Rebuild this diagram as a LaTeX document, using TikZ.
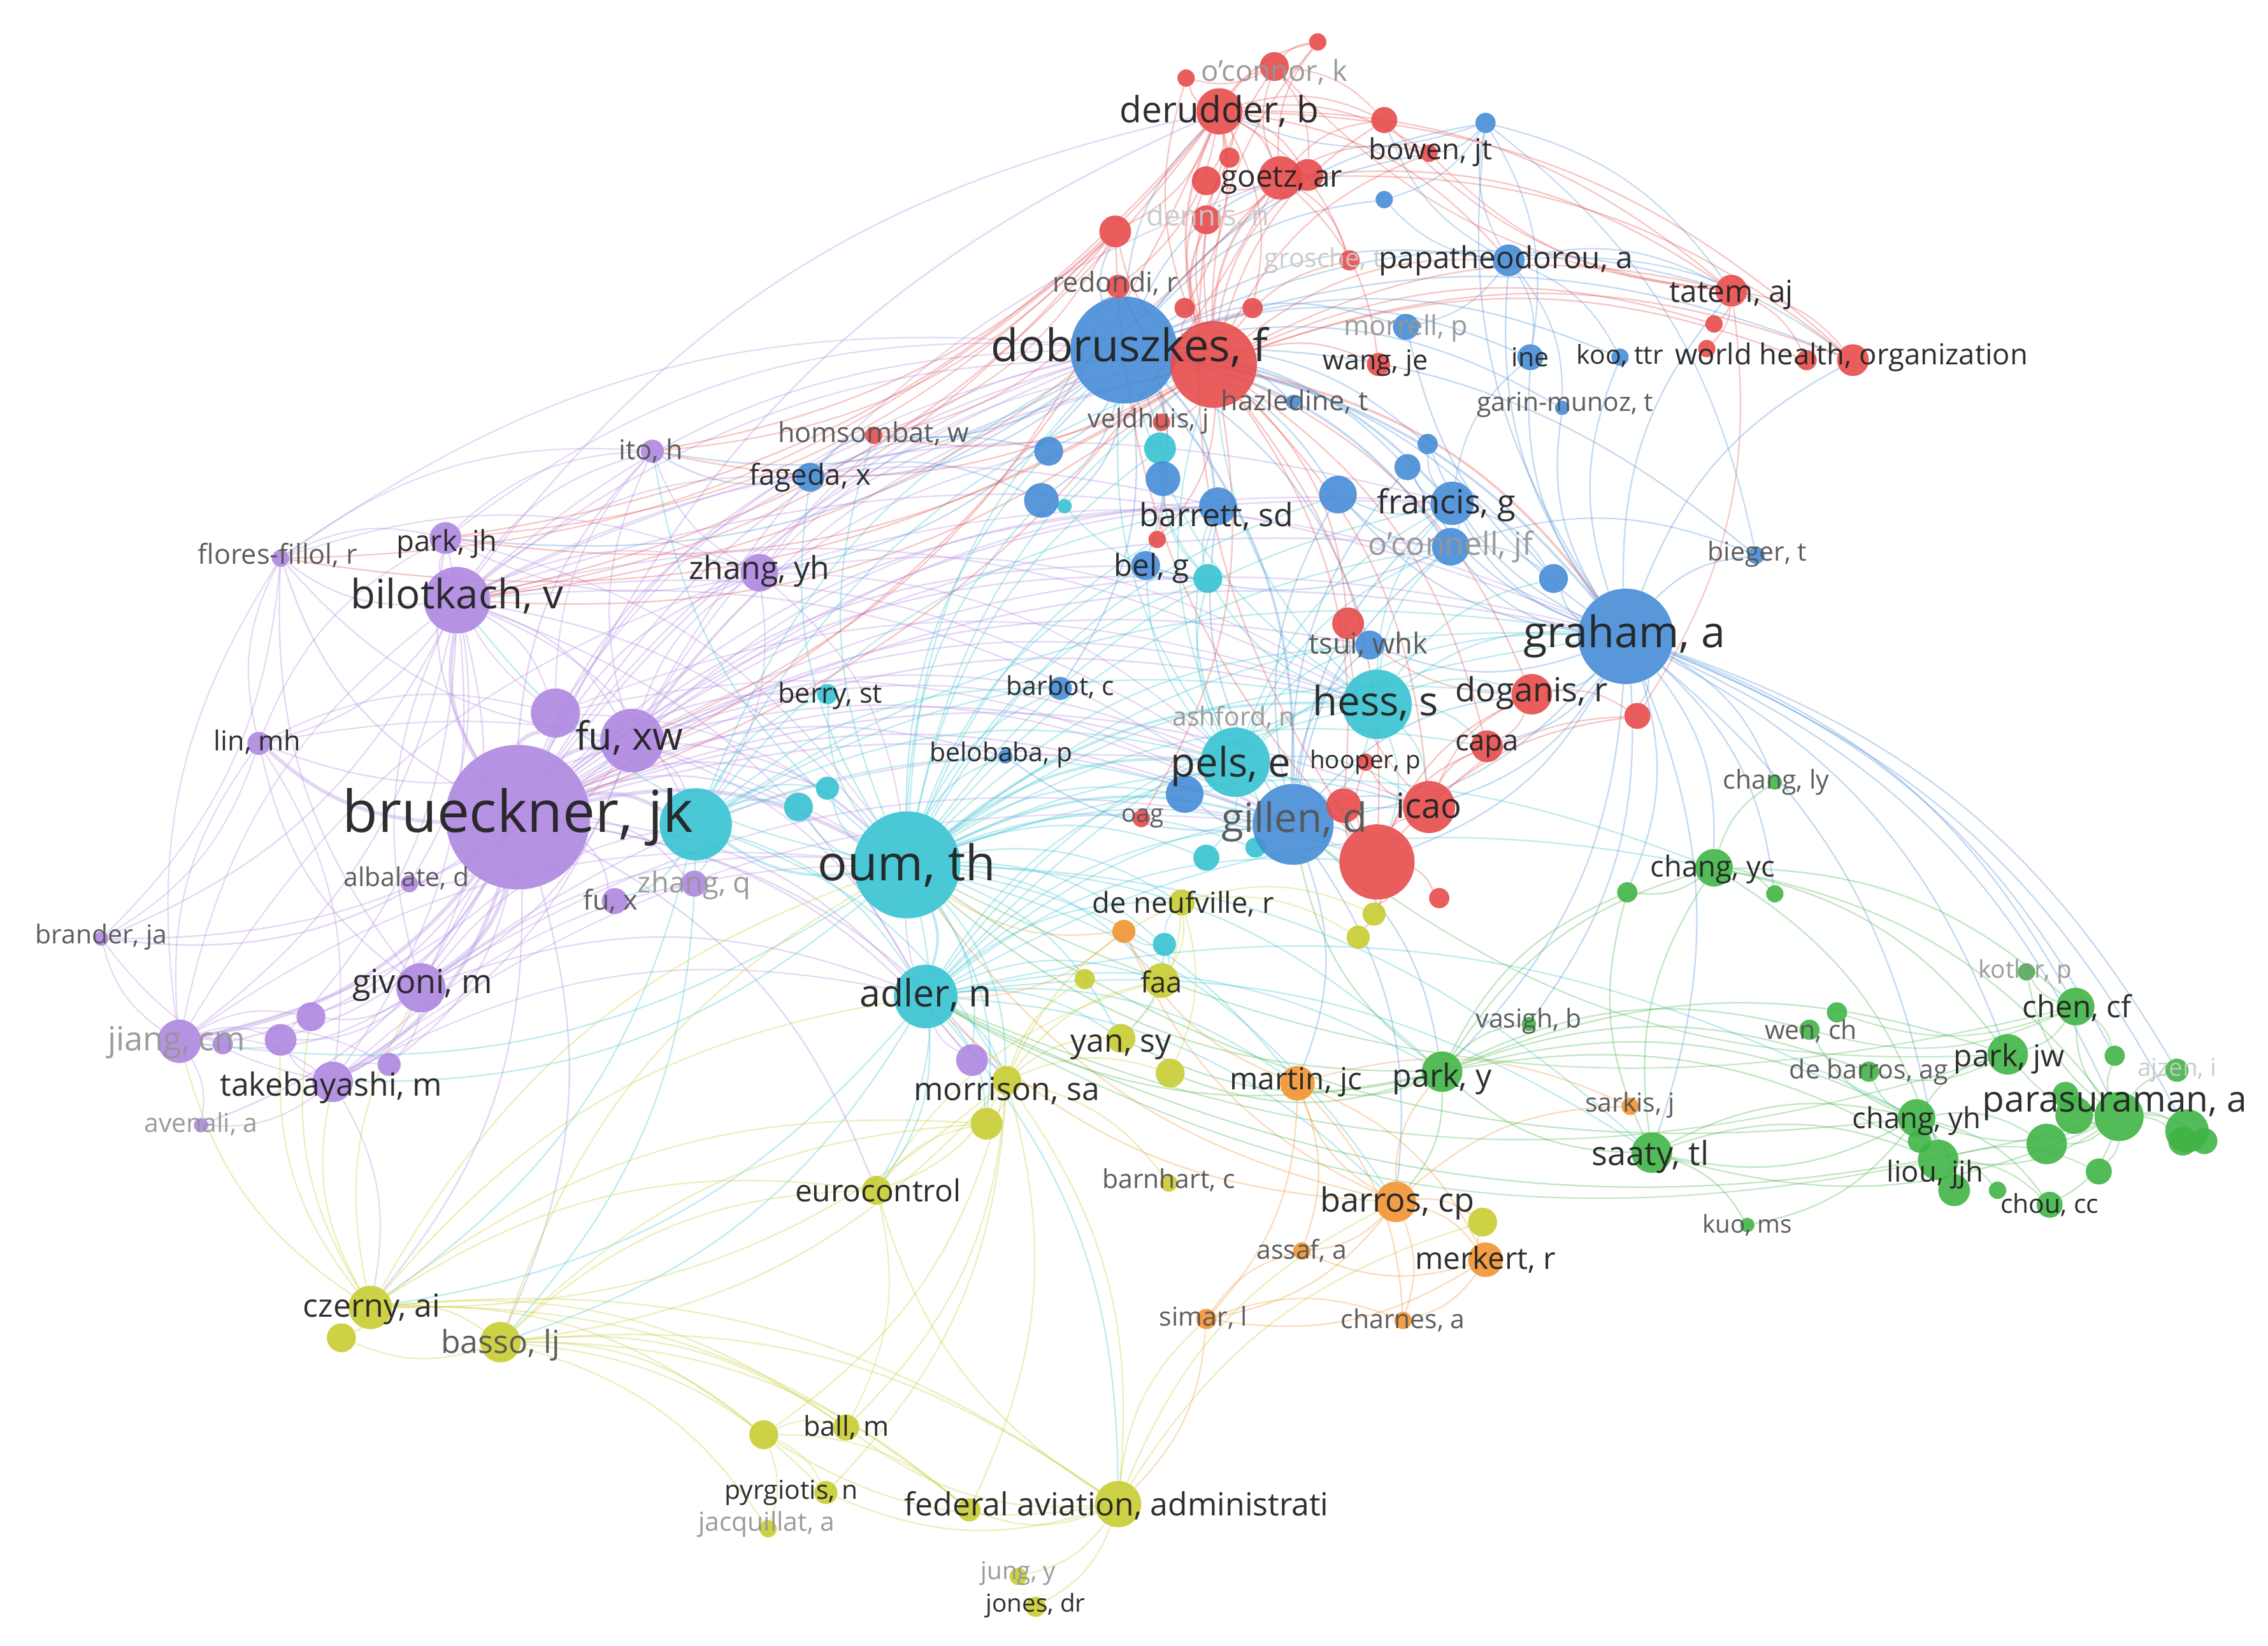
\documentclass[tikz,border=0pt]{standalone}
\usepackage{fontspec}
\setmainfont{Open Sans}
\definecolor{cR}{RGB}{231,76,76}
\definecolor{cB}{RGB}{70,140,215}
\definecolor{cC}{RGB}{55,195,210}
\definecolor{cP}{RGB}{175,135,225}
\definecolor{cY}{RGB}{200,205,50}
\definecolor{cO}{RGB}{242,148,50}
\definecolor{cG}{RGB}{65,180,70}
\definecolor{tD}{RGB}{35,35,35}
\definecolor{tM}{RGB}{85,85,85}
\definecolor{tL}{RGB}{150,150,150}
\definecolor{tF}{RGB}{200,200,200}
\pgfdeclarelayer{bg}
\pgfsetlayers{bg,main}
\tikzset{
  bub/.style={circle,inner sep=0pt,fill opacity=0.9,draw=none},
  lab/.style={inner sep=0pt,text opacity=0.95}
}
\newcommand\edgefan[4]{\foreach \t in {#4} {\draw[#1,line width=#2,opacity=0.33] (#3) to[bend left=20] (\t);}}
\newcommand\albl[5]{\node[lab,text=#5,font=\fontsize{#4}{#4}\selectfont] (#1) at (#2) {#3};}
\begin{document}
\begin{tikzpicture}[x=1pt,y=-1pt]
\path[use as bounding box] (0,0) rectangle (1568,1138);
% ---------- nodes ----------
\foreach \n/\x/\y/\r in {pbrue/358/565/50,pbilo/316/415/23,pparkjh/308/372/11,pflor/194/386/6,pito/451/312/8,pzyh/525/396/13,p7/384/493/17,pfuxw/437/512/22,plin/179/514/8,palb/283/611/6,pbran/70/649/5,pgiv/291/683/17,p13/215/703/10,pjiang/124/720/15,p15/154/722/7,p16/194/719/11,p17/269/736/8,ptake/230/748/14,paven/139/778/5,pfux/425/623/9,pzq/480/611/9,p22/672/733/11}
  \node[bub,fill=cP,minimum size={2*\r pt}] (\n) at (\x,\y) {};
\foreach \n/\x/\y/\r in {c1/802/310/11,c2/736/350/5,c3/835/400/10,chess/952/487/24,cpels/854/527/24,cjk/481/570/25,c7/572/545/8,c8/552/558/10,coum/627/598/37,cberry/572/480/7,c11/834/593/9,c12/868/586/7,c13/805/653/8,cadler/640/689/22}
  \node[bub,fill=cC,minimum size={2*\r pt}] (\n) at (\x,\y) {};
\foreach \n/\x/\y/\r in {bdob/777/242/37,b2/1027/85/7,b3/957/138/6,bpapa/1043/180/11,bmorr/972/226/9,bine/1058/247/9,bkoo/1120/247/6,bhaz/894/278/5,bgarin/1080/282/5,b10/987/307/7,b11/973/323/9,b12/925/342/13,bfran/1004/348/15,bocon/1003/378/13,b15/1074/400/10,bbieg/1214/384/6,bgrah/1124/440/33,btsui/947/446/10,bbel/792/391/10,b20/804/331/12,bbarr/842/350/13,b22/725/312/10,b23/720/346/12,bfag/560/330/10,bbarb/733/476/8,bbelo/695/523/5,b27/819/549/13,bgil/894/570/28}
  \node[bub,fill=cB,minimum size={2*\r pt}] (\n) at (\x,\y) {};
\foreach \n/\x/\y/\r in {r1/881/46/10,r2/820/54/6,r3/911/29/6,rderud/843/77/16,r5/957/83/9,rbowen/988/106/6,rgoetz/885/123/15,r8/904/121/11,r9/834/125/10,r10/850/109/7,rdennis/834/152/10,r12/819/213/7,r13/866/213/7,rdob/839/252/30,rgros/933/180/7,rwang/953/252/8,r17/771/160/11,rredon/773/198/8,rhoms/604/301/6,rveld/803/292/6,rtatem/1197/201/11,r22/1185/224/6,r23/1180/241/6,r24/1249/249/7,rwho/1281/249/11,r26/932/431/11,rdog/1059/480/14,r28/1132/495/9,rcapa/1028/516/11,rhoop/944/527/6,r31/929/557/12,ricao/988/558/18,rbig/952/596/26,r34/995/621/7,roag/789/566/6,r36/800/373/6}
  \node[bub,fill=cR,minimum size={2*\r pt}] (\n) at (\x,\y) {};
\foreach \n/\x/\y/\r in {ydn/817/624/9,y2/950/632/8,y3/939/648/8,ysur/750/677/7,yfaa/803/678/12,yyan/775/718/10,y7/809/742/10,ymorr/696/747/10,y9/682/777/11,yeuro/606/823/10,ybarn/808/818/6,y12/1025/845/10,yczer/256/904/15,ydan/236/925/10,ybasso/346/928/14,y16/528/992/10,yball/585/987/9,ypyr/571/1032/8,yfed/670/1044/8,y20/773/1040/16,yjacq/531/1057/6,yjung/704/1090/6,yjones/716/1111/7}
  \node[bub,fill=cY,minimum size={2*\r pt}] (\n) at (\x,\y) {};
\foreach \n/\x/\y/\r in {o1/777/644/8,omart/897/749/12,osark/1127/765/6,obarros/965/831/14,oassaf/900/865/6,omerk/1027/871/12,osimar/834/912/7,ochar/970/913/6}
  \node[bub,fill=cO,minimum size={2*\r pt}] (\n) at (\x,\y) {};
\foreach \n/\x/\y/\r in {g1/1125/617/7,gcly/1227/541/5,gcyc/1185/600/13,g4/1227/618/6,gvas/1057/708/5,gpy/997/741/14,gkot/1401/672/6,gchen/1435/696/13,gwen/1251/712/7,g10/1270/700/7,gdeb/1292/741/7,gpjw/1388/729/14,g13/1462/730/7,gajz/1505/740/8,g15/1428/757/9,gcyh/1325/773/13,g17/1327/789/8,gliou/1340/802/14,g19/1351/823/11,g20/1381/823/6,gchou/1417/833/9,g22/1415/791/14,g23/1451/810/9,gpara/1465/772/17,g25/1434/771/13,g26/1512/782/15,g27/1524/789/9,g28/1509/789/10,gsaaty/1142/797/14,gkuo/1208/847/5}
  \node[bub,fill=cG,minimum size={2*\r pt}] (\n) at (\x,\y) {};
% ---------- edges ----------
\begin{pgfonlayer}{bg}
\fill[white] (0,0) rectangle (1568,1138);
% purple
\edgefan{cP}{2.6pt}{pbrue}{pbilo,p7,pfuxw,pgiv,cjk,coum,pjiang,ptake,plin}
\edgefan{cP}{1.1pt}{pbrue}{pparkjh,pflor,pito,pzyh,palb,pbran,p13,p15,p16,p17,paven,pfux,pzq,cadler,bdob,rdob,bgil,cpels,chess,bgrah,yczer,ybasso,bfag,rhoms,cberry,c8,p22,ymorr,bbarr,bbel,c3,bfran,rderud,ricao,rbig,yeuro,bbarb,bbelo,btsui,bocon,c7}
\edgefan{cP}{1pt}{pbilo}{pparkjh,pflor,plin,pfuxw,p7,pzyh,pito,pgiv,pjiang,ptake,cjk,coum,bdob,pbran,palb,rdob,cpels,bgil,bfag,chess,bgrah,rderud,bbarr,p16,cadler,bfran}
\edgefan{cP}{1pt}{pfuxw}{pzyh,pito,p7,pgiv,ptake,coum,cjk,pbran,pjiang,bdob,chess,cpels,bgil,rdob,bgrah,pflor,plin,bfran,rgoetz,cadler,bbarr,b22}
\edgefan{cP}{1pt}{pgiv}{ptake,pjiang,p13,p16,p17,plin,pflor,coum,cjk,cadler,bdob,bgil,cpels,pbilo}
\edgefan{cP}{0.9pt}{pjiang}{ptake,p13,p15,p16,plin,pflor,pbran,paven,p17,coum,pzyh,pbilo}
\edgefan{cP}{0.9pt}{plin}{pflor,pparkjh,pbran,p7,ptake,coum}
\edgefan{cP}{0.9pt}{pflor}{pparkjh,pbran,pito,pzyh,bdob}
\edgefan{cP}{0.9pt}{ptake}{paven,p17,p16,coum,cadler,yczer,pbran,bgil}
\edgefan{cP}{0.9pt}{pzyh}{pito,coum,cjk,bdob,rdob,cpels,pparkjh,bgrah,chess}
\edgefan{cP}{0.9pt}{p7}{pito,pparkjh,coum,bdob,chess,bgil}
\edgefan{cP}{0.9pt}{p22}{coum,cadler,ymorr}
\edgefan{cP}{0.9pt}{pparkjh}{pito,bdob,coum}
% cyan
\edgefan{cC}{1.8pt}{coum}{cjk,cadler,cpels,chess,bgil}
\edgefan{cC}{1pt}{coum}{bdob,rdob,bgrah,c7,c8,cberry,bbarb,bbelo,c11,c12,c13,bfran,bbarr,bbel,c3,ricao,rbig,ydn,yfaa,yyan,ymorr,y9,yeuro,omart,gpy,p22,ptake,pjiang,pbilo,bocon,btsui,rdog,gcyc,gsaaty,obarros,bfag,b22,b23,c1,pito,rhoms,b27,b12,rcapa}
\edgefan{cC}{1pt}{cjk}{c8,c7,cadler,cpels,chess,bgil,pzq,pfux,bdob,rdob,bgrah,ymorr,yczer,ybasso,cberry,bbarb,bbarr}
\edgefan{cC}{1pt}{cadler}{cpels,chess,bgil,ymorr,y9,yeuro,omart,obarros,gpy,ydn,yfaa,rbig,ricao,ybasso,yczer,yyan,gcyc,gsaaty,bgrah,y20,gcyh}
\edgefan{cC}{1pt}{cpels}{chess,bgil,bgrah,bdob,rdob,c11,c12,bfran,bbarr,b27,rbig,ricao,btsui,bbel,c3,bocon}
\edgefan{cC}{1pt}{chess}{bgil,bgrah,rdog,bdob,rdob,bfran,bocon,c3,rbig,ricao,rcapa,b15}
\edgefan{cC}{0.9pt}{c3}{bbel,bbarr,c1,b20,c2}
\edgefan{cC}{0.9pt}{c13}{yfaa,ydn,o1,yyan}
% blue
\edgefan{cB}{1.6pt}{bdob}{rdob,bgrah,bgil,bfran,bocon,bbarr}
\edgefan{cB}{1pt}{bdob}{bbel,b20,b22,b23,bfag,bpapa,bmorr,bine,bkoo,bhaz,bgarin,b10,b11,b12,b15,bbieg,btsui,bbarb,rderud,rgoetz,rbowen,rtatem,rwho,c1,c2,rredon,r17,b2,b3,rhoms,pito,pparkjh,pzyh}
\edgefan{cB}{1pt}{bgrah}{bgil,bfran,bocon,b15,bbieg,bpapa,bine,bkoo,bgarin,b2,b11,b12,btsui,rdog,rcapa,ricao,rbig,r28,gcyc,gcly,gchen,gpjw,gpara,gsaaty,gliou,gvas,gpy,rtatem,rwho,b10,bmorr,g1,g4,g26,gajz,g13}
\edgefan{cB}{1pt}{bgil}{bfran,bocon,b27,bbarr,rbig,ricao,rdog,b12,bbelo,omart,obarros,gpy,btsui,b11}
\edgefan{cB}{0.9pt}{bpapa}{bine,bkoo,bgarin,b2,bmorr,rtatem,rwho,b3,r5}
\edgefan{cB}{0.9pt}{bfran}{bocon,b12,b11,b10,b15,bine}
\edgefan{cB}{0.9pt}{b2}{rbowen,bine,rtatem,b3,rderud,bbieg}
\edgefan{cB}{0.9pt}{bocon}{b15,bbieg,b12,bbel}
\edgefan{cB}{0.9pt}{bfag}{pito,b22,b23,rhoms}
% red
\edgefan{cR}{1.6pt}{rdob}{rderud,rgoetz,rdennis,bgrah}
\edgefan{cR}{1pt}{rdob}{r1,r2,r3,r5,rbowen,r8,r9,r10,r12,r13,rgros,rwang,r17,rredon,rhoms,rveld,rtatem,rwho,r22,r24,r26,rdog,rcapa,ricao,rbig,r31,bpapa,r36,roag,pito,pbilo,pparkjh,pflor}
\edgefan{cR}{1pt}{rderud}{r1,r2,r3,r5,rbowen,rgoetz,r8,r9,r10,rdennis,r12,r13,rgros,rtatem,bpapa,r17,rredon,pbrue,pbilo,rwho,pito,pparkjh}
\edgefan{cR}{1pt}{rgoetz}{r1,r5,rbowen,r9,rdennis,rgros,rwang,rtatem,rwho,r3,pbrue,pbilo}
\edgefan{cR}{0.9pt}{rtatem}{rwho,r22,r23,r24,rbowen,r5,r1,r28}
\edgefan{cR}{1pt}{rbig}{ricao,r31,rcapa,rdog,r34,r28,rhoop,y2,y3,rdennis,r17}
\edgefan{cR}{0.9pt}{ricao}{rcapa,rdog,r28,rhoop,r26}
\edgefan{cR}{0.9pt}{rdog}{r28,rcapa,r26}
\edgefan{cR}{0.9pt}{r17}{pito,pflor,rhoms,pparkjh,pbilo}
\edgefan{cR}{0.9pt}{rredon}{pfuxw,rhoms,r36}
\edgefan{cR}{0.9pt}{r1}{r2,r3,r5,r8}
% yellow
\edgefan{cY}{1pt}{ymorr}{y9,yeuro,yyan,yfaa,ydn,y7,ybarn,yczer,ybasso,y16,yball,ypyr,yfed,y20,ysur}
\edgefan{cY}{1pt}{yczer}{ybasso,ydan,ptake,pjiang,p16,pgiv,y16,yball,yfed,y20,yeuro,y9,coum,cadler,p13}
\edgefan{cY}{1pt}{ybasso}{ydan,y16,yball,ypyr,yjacq,y20,yfed,yeuro,y9,coum}
\edgefan{cY}{1pt}{y20}{yfed,yjung,yjones,ypyr,yball,y16,yeuro,y12,obarros,osimar}
\edgefan{cY}{0.9pt}{y16}{yball,ypyr,yjacq,yfed}
\edgefan{cY}{0.9pt}{ydn}{yfaa,y2,y3,yyan,y7}
\edgefan{cY}{0.9pt}{yeuro}{yball,y9,yfaa}
% orange
\edgefan{cO}{1pt}{obarros}{omerk,oassaf,osimar,ochar,omart,osark,y12,o1,coum,cadler,gpy}
\edgefan{cO}{1pt}{omart}{omerk,oassaf,osimar,ochar,o1,osark}
\edgefan{cO}{1pt}{omerk}{osimar,ochar,oassaf,y12}
\edgefan{cO}{0.9pt}{osimar}{ochar,oassaf,y20}
\edgefan{cO}{0.9pt}{o1}{coum,cadler}
% green
\edgefan{cG}{1pt}{gpara}{g25,g26,g27,g28,gchen,gpjw,gajz,g13,g15,g22,g23,gcyh,gliou,gchou,gsaaty,gkot,cadler}
\edgefan{cG}{1pt}{gcyh}{gliou,g17,g19,gpjw,gdeb,gwen,gsaaty,gkuo,g22,gchou,coum}
\edgefan{cG}{1pt}{gsaaty}{gliou,gcyh,gkuo,gpy,g1,gcyc}
\edgefan{cG}{1pt}{gpy}{gcyc,g1,gvas,gwen,gdeb,gpjw,gliou,gcyh,cadler,coum,bgil,obarros,omart,yyan,y7}
\edgefan{cG}{1pt}{gcyc}{g4,gcly,g1,gchen,gpjw,gpara,gliou}
\edgefan{cG}{0.9pt}{gchen}{gpjw,gkot,g13,g10,gwen,coum}
\edgefan{cG}{0.9pt}{gliou}{gchou,g20,g19,g23,cadler}
\edgefan{cG}{0.9pt}{gpjw}{bgil,cadler,gdeb}
\end{pgfonlayer}
% ---------- labels ----------
\albl{La1}{881,50}{o'connor, k}{20}{tL}
\albl{La2}{843,77}{derudder, b}{25}{tD}
\albl{La3}{989,105}{bowen, jt}{20}{tD}
\albl{La4}{886,125}{goetz, ar}{21}{tD}
\albl{La5}{835,150}{dennis, n}{20}{tF}
\albl{La6}{915,180}{grosche, t}{18}{tF}
\albl{La7}{1041,180}{papatheodorou, a}{21}{tD}
\albl{La8}{771,196}{redondi, r}{19}{tM}
\albl{La9}{1197,204}{tatem, aj}{21}{tD}
\albl{La10}{972,227}{morrell, p}{19}{tL}
\albl{La11}{781,240}{dobruszkes, f}{31}{tD}
\albl{La12}{951,251}{wang, je}{19}{tD}
\albl{La13}{1058,247}{ine}{18}{tD}
\albl{La14}{1120,246}{koo, ttr}{18}{tD}
\albl{La15}{1280,247}{world health, organization}{20}{tD}
\albl{La16}{895,278}{hazledine, t}{19}{tM}
\albl{La17}{1082,280}{garin-munoz, t}{18}{tM}
\albl{La18}{794,291}{veldhuis, j}{18}{tM}
\albl{La19}{604,300}{homsombat, w}{19}{tM}
\albl{La20}{450,312}{ito, h}{19}{tM}
\albl{La21}{560,330}{fageda, x}{20}{tD}
\albl{La22}{1000,349}{francis, g}{23}{tD}
\albl{La23}{841,357}{barrett, sd}{22}{tD}
\albl{La24}{309,376}{park, jh}{20}{tD}
\albl{La25}{192,384}{flores-fillol, r}{19}{tM}
\albl{La26}{1003,378}{o'connell, jf}{22}{tL}
\albl{La27}{1215,383}{bieger, t}{18}{tM}
\albl{La28}{316,412}{bilotkach, v}{28}{tD}
\albl{La29}{525,395}{zhang, yh}{22}{tD}
\albl{La30}{796,393}{bel, g}{21}{tD}
\albl{La31}{1123,440}{graham, a}{30}{tD}
\albl{La32}{946,446}{tsui, whk}{20}{tM}
\albl{La33}{574,481}{berry, st}{19}{tD}
\albl{La34}{733,475}{barbot, c}{18}{tD}
\albl{La35}{951,486}{hess, s}{28}{tD}
\albl{La36}{1059,479}{doganis, r}{23}{tD}
\albl{La37}{853,496}{ashford, n}{18}{tL}
\albl{La38}{435,510}{fu, xw}{27}{tD}
\albl{La39}{178,513}{lin, mh}{19}{tD}
\albl{La40}{1028,516}{capa}{20}{tD}
\albl{La41}{692,522}{belobaba, p}{18}{tD}
\albl{La42}{851,530}{pels, e}{28}{tD}
\albl{La43}{944,527}{hooper, p}{17}{tD}
\albl{La44}{1228,541}{chang, ly}{18}{tM}
\albl{La45}{358,565}{brueckner, jk}{40}{tD}
\albl{La46}{895,568}{gillen, d}{28}{tM}
\albl{La47}{790,566}{oag}{17}{tM}
\albl{La48}{988,557}{icao}{24}{tD}
\albl{La49}{627,598}{oum, th}{34}{tD}
\albl{La50}{1184,601}{chang, yc}{20}{tD}
\albl{La51}{281,607}{albalate, d}{18}{tM}
\albl{La52}{480,612}{zhang, q}{20}{tL}
\albl{La53}{422,623}{fu, x}{19}{tM}
\albl{La54}{818,625}{de neufville, r}{20}{tD}
\albl{La55}{70,648}{brander, ja}{18}{tM}
\albl{La56}{803,679}{faa}{20}{tD}
\albl{La57}{1400,672}{kotler, p}{17}{tL}
\albl{La58}{292,681}{givoni, m}{23}{tD}
\albl{La59}{640,688}{adler, n}{26}{tD}
\albl{La60}{1436,697}{chen, cf}{21}{tD}
\albl{La61}{1057,706}{vasigh, b}{18}{tM}
\albl{La62}{1252,713}{wen, ch}{18}{tM}
\albl{La63}{122,721}{jiang, cm}{23}{tL}
\albl{La64}{775,724}{yan, sy}{22}{tD}
\albl{La65}{1389,732}{park, jw}{21}{tD}
\albl{La66}{1292,741}{de barros, ag}{18}{tM}
\albl{La67}{1505,740}{ajzen, i}{17}{tF}
\albl{La68}{896,748}{martin, jc}{21}{tD}
\albl{La69}{997,746}{park, y}{22}{tD}
\albl{La70}{229,752}{takebayashi, m}{22}{tD}
\albl{La71}{696,754}{morrison, sa}{22}{tD}
\albl{La72}{1127,764}{sarkis, j}{18}{tM}
\albl{La73}{1462,765}{parasuraman, a}{25}{tD}
\albl{La74}{1325,775}{chang, yh}{20}{tD}
\albl{La75}{139,777}{avenali, a}{18}{tL}
\albl{La76}{1141,800}{saaty, tl}{23}{tD}
\albl{La77}{1338,812}{liou, jjh}{20}{tD}
\albl{La78}{808,816}{barnhart, c}{18}{tM}
\albl{La79}{607,823}{eurocontrol}{21}{tD}
\albl{La80}{1417,833}{chou, cc}{18}{tD}
\albl{La81}{966,832}{barros, cp}{23}{tD}
\albl{La82}{1208,847}{kuo, ms}{17}{tM}
\albl{La83}{900,865}{assaf, a}{18}{tM}
\albl{La84}{1027,871}{merkert, r}{21}{tD}
\albl{La85}{257,905}{czerny, ai}{22}{tD}
\albl{La86}{832,911}{simar, l}{18}{tM}
\albl{La87}{970,913}{charnes, a}{18}{tM}
\albl{La88}{346,930}{basso, lj}{22}{tM}
\albl{La89}{585,987}{ball, m}{19}{tD}
\albl{La90}{547,1032}{pyrgiotis, n}{18}{tD}
\albl{La91}{772,1041}{federal aviation, administrati}{22}{tD}
\albl{La92}{530,1054}{jacquillat, a}{18}{tL}
\albl{La93}{704,1088}{jung, y}{17}{tL}
\albl{La94}{716,1110}{jones, dr}{17}{tD}
\end{tikzpicture}
\end{document}
